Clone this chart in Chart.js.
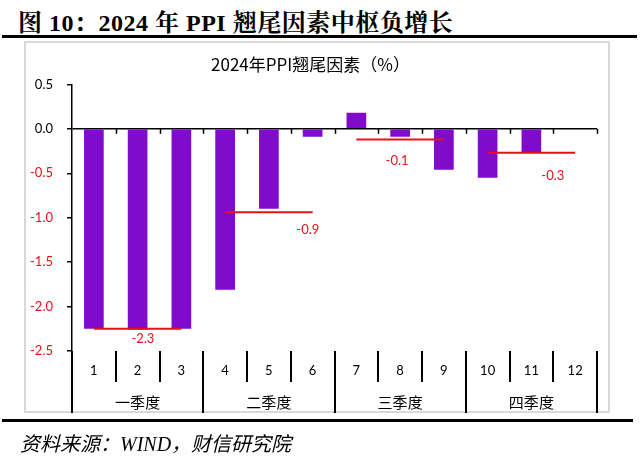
<!DOCTYPE html>
<html>
<head>
<meta charset="utf-8">
<script src="https://cdn.jsdelivr.net/npm/chart.js@4.4.1/dist/chart.umd.min.js"></script>
<style>
  body { margin: 0; background: #fff; }
  #wrap { position: relative; width: 640px; height: 457px; overflow: hidden; }
  #head { position: absolute; left: 18px; top: 3px; white-space: nowrap; letter-spacing: 0.5px;
          font: bold 24px "Liberation Serif", "Noto Serif CJK SC", "Noto Sans CJK SC", serif; color: #000; }
  .rule { position: absolute; left: 2px; height: 3px; background: #000; }
  #box { position: absolute; left: 24px; top: 41px; width: 582px; height: 368px; border: 2px solid #d9d9d9; }
  #src { position: absolute; left: 20px; top: 428px; white-space: nowrap;
         font: italic 20px "Liberation Serif", "Noto Sans CJK SC", serif; color: #000; }
  canvas { position: absolute; left: 0; top: 0; }
</style>
</head>
<body>
<div id="wrap">
  <div id="head">图 10：2024 年 PPI 翘尾因素中枢负增长</div>
  <div class="rule" style="top:35px;width:635px"></div>
  <div id="box"></div>
  <canvas id="myChart" width="640" height="457"></canvas>
  <div class="rule" style="top:419px;width:631px"></div>
  <div id="src">资料来源：WIND，财信研究院</div>
</div>
<script>
// data
const months = ['1', '2', '3', '4', '5', '6', '7', '8', '9', '10', '11', '12'];
const quarters = ['一季度', '二季度', '三季度', '四季度'];
const tailEffect = [-2.25, -2.26, -2.25, -1.81, -0.90, -0.09, 0.18, -0.09, -0.46, -0.55, -0.27, 0.00];
const quarterAvg = [-2.25, -0.94, -0.12, -0.27];
const quarterText = ['-2.3', '-0.9', '-0.1', '-0.3'];
const yTicks = [-2.5, -2.0, -1.5, -1.0, -0.5, 0.0, 0.5];

const purple = '#800bcc';
const red = '#e8101a';
const latin = 'Lato, "Noto Sans CJK SC", sans-serif';

// where the average labels sit: index on the x scale, pixels below the red line
const avgLabelIndex = [1.12, 4.89, 6.93, 10.49];
const avgLabelDrop = [10, 17, 21, 23];

const avgLines = quarterAvg.map((v, q) => ({
  type: 'line',
  data: months.map((m, i) => Math.floor(i / 3) === q ? v : null),
  borderColor: red,
  borderWidth: 2,
  pointRadius: 0,
  spanGaps: false,
  order: 0
}));

// quarter separators, zero-axis ticks, quarter names, average labels
const extras = {
  id: 'extras',
  afterDraw(chart) {
    const ctx = chart.ctx;
    const x = chart.scales.x, y = chart.scales.y;
    const area = chart.chartArea;
    const y0 = y.getPixelForValue(0);
    ctx.save();
    ctx.strokeStyle = '#000';
    ctx.lineWidth = 1.5;
    for (let i = 1; i <= months.length; i++) {
      const px = Math.round(x.getPixelForValue(i - 0.5)) + 0.5;
      ctx.beginPath();
      ctx.moveTo(px, y0);
      ctx.lineTo(px, y0 + 5);
      ctx.stroke();
    }
    ctx.lineWidth = 2;
    for (let q = 0; q <= quarters.length; q++) {
      const px = Math.round(x.getPixelForValue(q * 3 - 0.5));
      ctx.beginPath();
      ctx.moveTo(px, area.bottom);
      ctx.lineTo(px, area.bottom + 62);
      ctx.stroke();
    }
    ctx.fillStyle = '#000';
    ctx.font = '15px "Noto Sans CJK SC", sans-serif';
    ctx.textAlign = 'center';
    ctx.textBaseline = 'middle';
    quarters.forEach((name, q) => {
      ctx.fillText(name, x.getPixelForValue(q * 3 + 1), area.bottom + 51);
    });
    ctx.fillStyle = red;
    ctx.font = '13px ' + latin;
    quarterText.forEach((t, q) => {
      ctx.fillText(t, x.getPixelForValue(avgLabelIndex[q]), y.getPixelForValue(quarterAvg[q]) + avgLabelDrop[q]);
    });
    ctx.restore();
  }
};

new Chart(document.getElementById('myChart').getContext('2d'), {
  type: 'bar',
  data: {
    labels: months,
    datasets: [{
      label: '2024年PPI翘尾因素',
      data: tailEffect,
      backgroundColor: purple,
      barPercentage: 0.9,
      categoryPercentage: 0.5,
      order: 1
    }, ...avgLines]
  },
  options: {
    responsive: false,
    animation: false,
    layout: { padding: { left: 24, right: 43, top: 0, bottom: 44 } },
    plugins: {
      legend: { display: false },
      tooltip: { enabled: false },
      title: {
        display: true,
        text: '2024年PPI翘尾因素（%）',
        color: '#000',
        font: { family: '"Noto Sans CJK SC", sans-serif', size: 17, weight: 'normal' },
        padding: { top: 54, bottom: 10 }
      }
    },
    scales: {
      x: {
        offset: true,
        border: { display: false },
        grid: { offset: true, drawOnChartArea: false, tickLength: 31, color: '#000', lineWidth: 2 },
        ticks: { color: '#000', font: { family: latin, size: 13 }, padding: -19, maxRotation: 0 },
        afterFit: a => { a.height = 62; }
      },
      y: {
        min: -2.5,
        max: 0.5,
        border: { display: true, color: '#000', width: 1.5 },
        grid: {
          color: c => c.tick && c.tick.value === 0 ? '#000' : 'rgba(0,0,0,0)',
          lineWidth: 1.5,
          tickColor: '#000',
          tickLength: 5
        },
        afterBuildTicks: a => { a.ticks = yTicks.map(v => ({ value: v })); },
        ticks: {
          padding: 14,
          font: { family: latin, size: 13 },
          color: c => c.tick && c.tick.value < 0 ? red : '#000',
          callback: v => v.toFixed(1)
        },
        afterFit: a => { a.width = 48; }
      }
    }
  },
  plugins: [extras]
});
</script>
</body>
</html>
